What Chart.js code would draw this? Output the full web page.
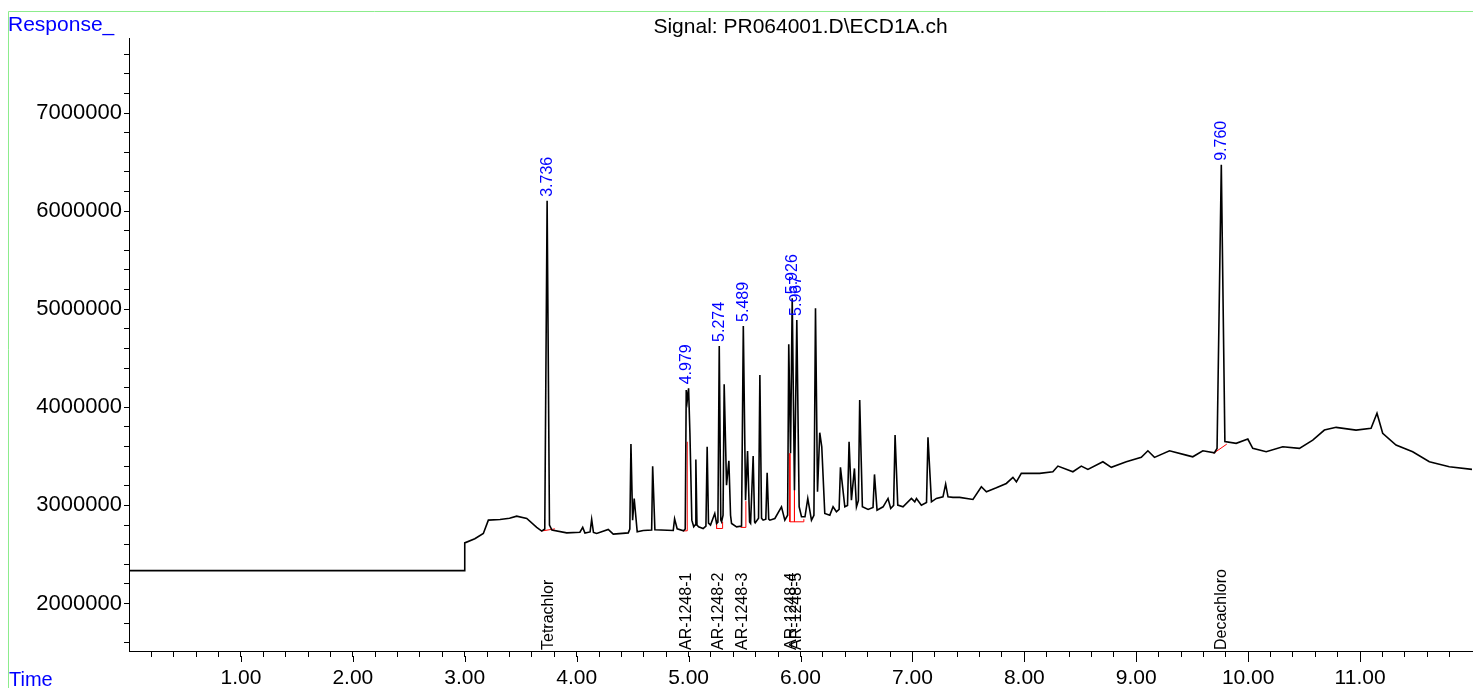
<!DOCTYPE html>
<html>
<head>
<meta charset="utf-8">
<title>Signal: PR064001.D\ECD1A.ch</title>
<script src="https://cdn.jsdelivr.net/npm/chart.js@4.4.1/dist/chart.umd.min.js"></script>
<style>
  html, body { margin: 0; padding: 0; background: #fff; }
  #wrap { width: 1473px; height: 688px; position: relative; }
</style>
</head>
<body>
<div id="wrap"><canvas id="chrom"></canvas></div>
<script>
// chromatogram trace (min, response)
const traceTime = [
  0, 3.0, 3.0, 3.09, 3.166, 3.211, 3.315, 3.40, 3.464, 3.554, 3.643, 3.688, 3.715, 3.736, 3.757, 3.779,
  3.911, 4.029, 4.054, 4.074, 4.12, 4.134, 4.15, 4.179, 4.282, 4.327, 4.461, 4.475, 4.485, 4.5, 4.514, 4.541,
  4.595, 4.67, 4.679, 4.699, 4.863, 4.875, 4.898, 4.955, 4.97, 4.979, 4.988, 5.0, 5.012, 5.029, 5.046,
  5.058, 5.065, 5.075, 5.089, 5.130, 5.155, 5.166, 5.178, 5.196, 5.234, 5.25, 5.262, 5.274, 5.288, 5.295,
  5.308, 5.318, 5.339, 5.360, 5.375, 5.384, 5.429, 5.473, 5.489, 5.509, 5.527, 5.545, 5.554, 5.577, 5.59,
  5.595, 5.625, 5.637, 5.652, 5.666, 5.69, 5.702, 5.716, 5.726, 5.771, 5.830, 5.86, 5.885, 5.895, 5.911,
  5.926, 5.946, 5.967, 5.988, 6.009, 6.04, 6.065, 6.098, 6.12, 6.134, 6.152, 6.172, 6.19, 6.217, 6.262,
  6.291, 6.321, 6.345, 6.357, 6.396, 6.42, 6.434, 6.455, 6.482, 6.5, 6.517, 6.529, 6.553, 6.604, 6.648,
  6.661, 6.684, 6.738, 6.782, 6.806, 6.832, 6.845, 6.869, 6.916, 6.991, 7.021, 7.036, 7.08, 7.126, 7.139,
  7.17, 7.214, 7.273, 7.297, 7.318, 7.362, 7.422, 7.541, 7.616, 7.661, 7.75, 7.839, 7.898, 7.929, 7.973,
  8.137, 8.255, 8.3, 8.434, 8.509, 8.568, 8.702, 8.777, 8.911, 9.045, 9.104, 9.163, 9.297, 9.446, 9.505,
  9.595, 9.699, 9.722, 9.760, 9.792, 9.893, 9.997, 10.041, 10.161, 10.309, 10.458, 10.577, 10.681, 10.786,
  10.964, 11.098, 11.151, 11.202, 11.321, 11.47, 11.619, 11.797, 12.0
];
const traceResponse = [
  2335000, 2335000, 2618000, 2660000, 2714000, 2850000, 2857000, 2870000, 2891000, 2867000, 2776000, 2738000, 2760000, 6105000, 2800000, 2748000,
  2720000, 2727000, 2776000, 2718000, 2730000, 2857000, 2725000, 2714000, 2755000, 2707000, 2720000, 2760000, 3625000, 2850000, 3071000, 2731000,
  2745000, 2750000, 3398000, 2752000, 2745000, 2864000, 2762000, 2741000, 2760000, 4176000, 4070000, 4194000, 3735000, 2850000, 2782000,
  2800000, 3469000, 2800000, 2782000, 2765000, 2790000, 3598000, 2820000, 2800000, 2918000, 2816000, 2830000, 4626000, 2850000, 2833000,
  2900000, 4235000, 3207000, 3455000, 2900000, 2816000, 2782000, 2789000, 4830000, 3054000, 3554000, 2830000, 2816000, 3503000, 2830000,
  2822000, 2870000, 4330000, 2870000, 2850000, 2860000, 3333000, 2860000, 2850000, 2867000, 2986000, 2850000, 2900000, 4643000, 3531000,
  5112000, 3156000, 4891000, 2986000, 2884000, 2884000, 3071000, 2850000, 2900000, 5010000, 3139000, 3741000, 3598000, 2918000, 2901000,
  2986000, 2935000, 2960000, 3388000, 2986000, 3000000, 3649000, 3054000, 3377000, 2986000, 3050000, 4075000, 2986000, 2959000, 2980000,
  3316000, 2952000, 2986000, 3071000, 2969000, 3000000, 3717000, 3003000, 2986000, 3071000, 3037000, 3071000, 3003000, 3030000, 3694000,
  3037000, 3071000, 3088000, 3217000, 3088000, 3082000, 3082000, 3061000, 3190000, 3139000, 3180000, 3224000, 3286000, 3241000, 3327000,
  3327000, 3343000, 3401000, 3343000, 3401000, 3367000, 3445000, 3388000, 3445000, 3490000, 3557000, 3490000, 3557000, 3513000, 3496000,
  3557000, 3537000, 3580000, 6472000, 3650000, 3633000, 3677000, 3582000, 3547000, 3598000, 3582000, 3666000, 3768000, 3796000,
  3768000, 3786000, 3939000, 3735000, 3615000, 3547000, 3445000, 3394000, 3367000
];

// integration baselines (red)
const baseSegTime = [
  [3.696, 3.806],
  [4.952, 4.988, 4.988],
  [5.25, 5.25, 5.304, 5.304],
  [5.464, 5.512, 5.512],
  [5.905, 5.905, 6.024, 6.030],
  [5.946, 5.946],
  [9.690, 9.809]
];
const baseSegResponse = [
  [2741000, 2761000],
  [2741000, 2741000, 3649000],
  [2850000, 2765000, 2765000, 2833000],
  [2776000, 2776000, 3044000],
  [3531000, 2833000, 2833000, 2860000],
  [3156000, 2833000],
  [3531000, 3625000]
];

// peak retention-time labels
const peakRT = [3.736, 4.979, 5.274, 5.489, 5.926, 5.967, 9.760];
const peakApex = [6105000, 4194000, 4626000, 4830000, 5112000, 4891000, 6472000];

// compound names at the bottom
const compoundNames = ["Tetrachlor", "AR-1248-1", "AR-1248-2", "AR-1248-3", "AR-1248-4", "AR-1248-5", "Decachloro"];
const compoundRT = [3.746, 4.982, 5.271, 5.482, 5.920, 5.964, 9.760];

// axes
const xLabelValues = [1, 2, 3, 4, 5, 6, 7, 8, 9, 10, 11];
const yLabelValues = [2000000, 3000000, 4000000, 5000000, 6000000, 7000000];
const xMin = 0, xMax = 12, yMin = 1516000, yMax = 7765000;

const FONT = '"Liberation Sans", Arial, sans-serif';

const xTicks = [];
for (let i = 1; i < 60; i++) xTicks.push(+(i * 0.2).toFixed(1));
const yTicks = [];
for (let v = 1600000; v <= 7600000; v += 200000) yTicks.push(v);

const datasets = [{
  data: traceTime.map((t, i) => ({ x: t, y: traceResponse[i] })),
  borderColor: "#000", borderWidth: 1.6, pointRadius: 0, tension: 0
}];
baseSegTime.forEach((seg, k) => datasets.push({
  data: seg.map((t, i) => ({ x: t, y: baseSegResponse[k][i] })),
  borderColor: "#ff0000", borderWidth: 1, pointRadius: 0, tension: 0
}));

const annotate = {
  id: "annotate",
  afterDatasetsDraw(chart) {
    const { ctx, chartArea, scales: { x, y } } = chart;
    ctx.save();
    ctx.textAlign = "left";
    ctx.textBaseline = "middle";
    ctx.font = `16px ${FONT}`;
    ctx.fillStyle = "#0000ff";
    peakRT.forEach((rt, i) => {
      ctx.save();
      ctx.translate(x.getPixelForValue(rt), y.getPixelForValue(peakApex[i]) - 4);
      ctx.rotate(-Math.PI / 2);
      ctx.fillText(rt.toFixed(3), 0, 0);
      ctx.restore();
    });
    ctx.fillStyle = "#000";
    compoundNames.forEach((name, i) => {
      ctx.save();
      ctx.translate(x.getPixelForValue(compoundRT[i]), chartArea.bottom - 1);
      ctx.rotate(-Math.PI / 2);
      ctx.fillText(name, 0, 0);
      ctx.restore();
    });
    ctx.restore();
  },
  afterDraw(chart) {
    const { ctx, chartArea, scales: { x } } = chart;
    ctx.save();
    // longer ticks at whole minutes
    ctx.strokeStyle = "#000";
    ctx.lineWidth = 1;
    xLabelValues.forEach(v => {
      const px = Math.round(x.getPixelForValue(v)) + 0.5;
      ctx.beginPath();
      ctx.moveTo(px, chartArea.bottom + 5);
      ctx.lineTo(px, chartArea.bottom + 11);
      ctx.stroke();
    });
    // frame
    ctx.strokeStyle = "rgb(140,236,140)";
    ctx.beginPath();
    ctx.moveTo(1473, 11.5);
    ctx.lineTo(8.5, 11.5);
    ctx.lineTo(8.5, 688);
    ctx.stroke();
    // texts
    ctx.textBaseline = "alphabetic";
    ctx.font = `21px ${FONT}`;
    ctx.fillStyle = "#000";
    ctx.textAlign = "center";
    ctx.fillText("Signal: PR064001.D\\ECD1A.ch", (chartArea.left + chartArea.right) / 2, 33);
    ctx.textAlign = "left";
    ctx.fillStyle = "#0000ff";
    ctx.fillText("Response_", 8, 31);
    ctx.font = `20px ${FONT}`;
    ctx.fillText("Time", 9, 686);
    ctx.restore();
  }
};

new Chart(document.getElementById("chrom"), {
  type: "line",
  data: { datasets },
  plugins: [annotate],
  options: {
    responsive: true, maintainAspectRatio: false, animation: false, events: [],
    layout: { padding: { top: 38, right: 1, left: 0, bottom: 0 } },
    plugins: { legend: { display: false }, tooltip: { enabled: false } },
    scales: {
      x: {
        type: "linear", min: xMin, max: xMax,
        afterBuildTicks: s => { s.ticks = xTicks.map(v => ({ value: v })); },
        afterFit: s => { s.height = 37; },
        grid: { drawOnChartArea: false, drawTicks: true, tickLength: 6, color: "#000" },
        border: { color: "#000", width: 1 },
        ticks: {
          autoSkip: false, maxRotation: 0, padding: 9, color: "#000",
          font: { family: FONT, size: 21 },
          callback: v => xLabelValues.includes(Math.round(v * 10) / 10) ? v.toFixed(2) : ""
        }
      },
      y: {
        type: "linear", min: yMin, max: yMax,
        afterBuildTicks: s => { s.ticks = yTicks.map(v => ({ value: v })); },
        afterFit: s => { s.width = 129; },
        grid: { drawOnChartArea: false, drawTicks: true, tickLength: 5, color: "#000" },
        border: { color: "#000", width: 1 },
        ticks: {
          autoSkip: false, padding: 2, color: "#000",
          font: { family: FONT, size: 22 },
          callback: v => yLabelValues.includes(v) ? String(v) : ""
        }
      }
    }
  }
});
</script>
</body>
</html>
